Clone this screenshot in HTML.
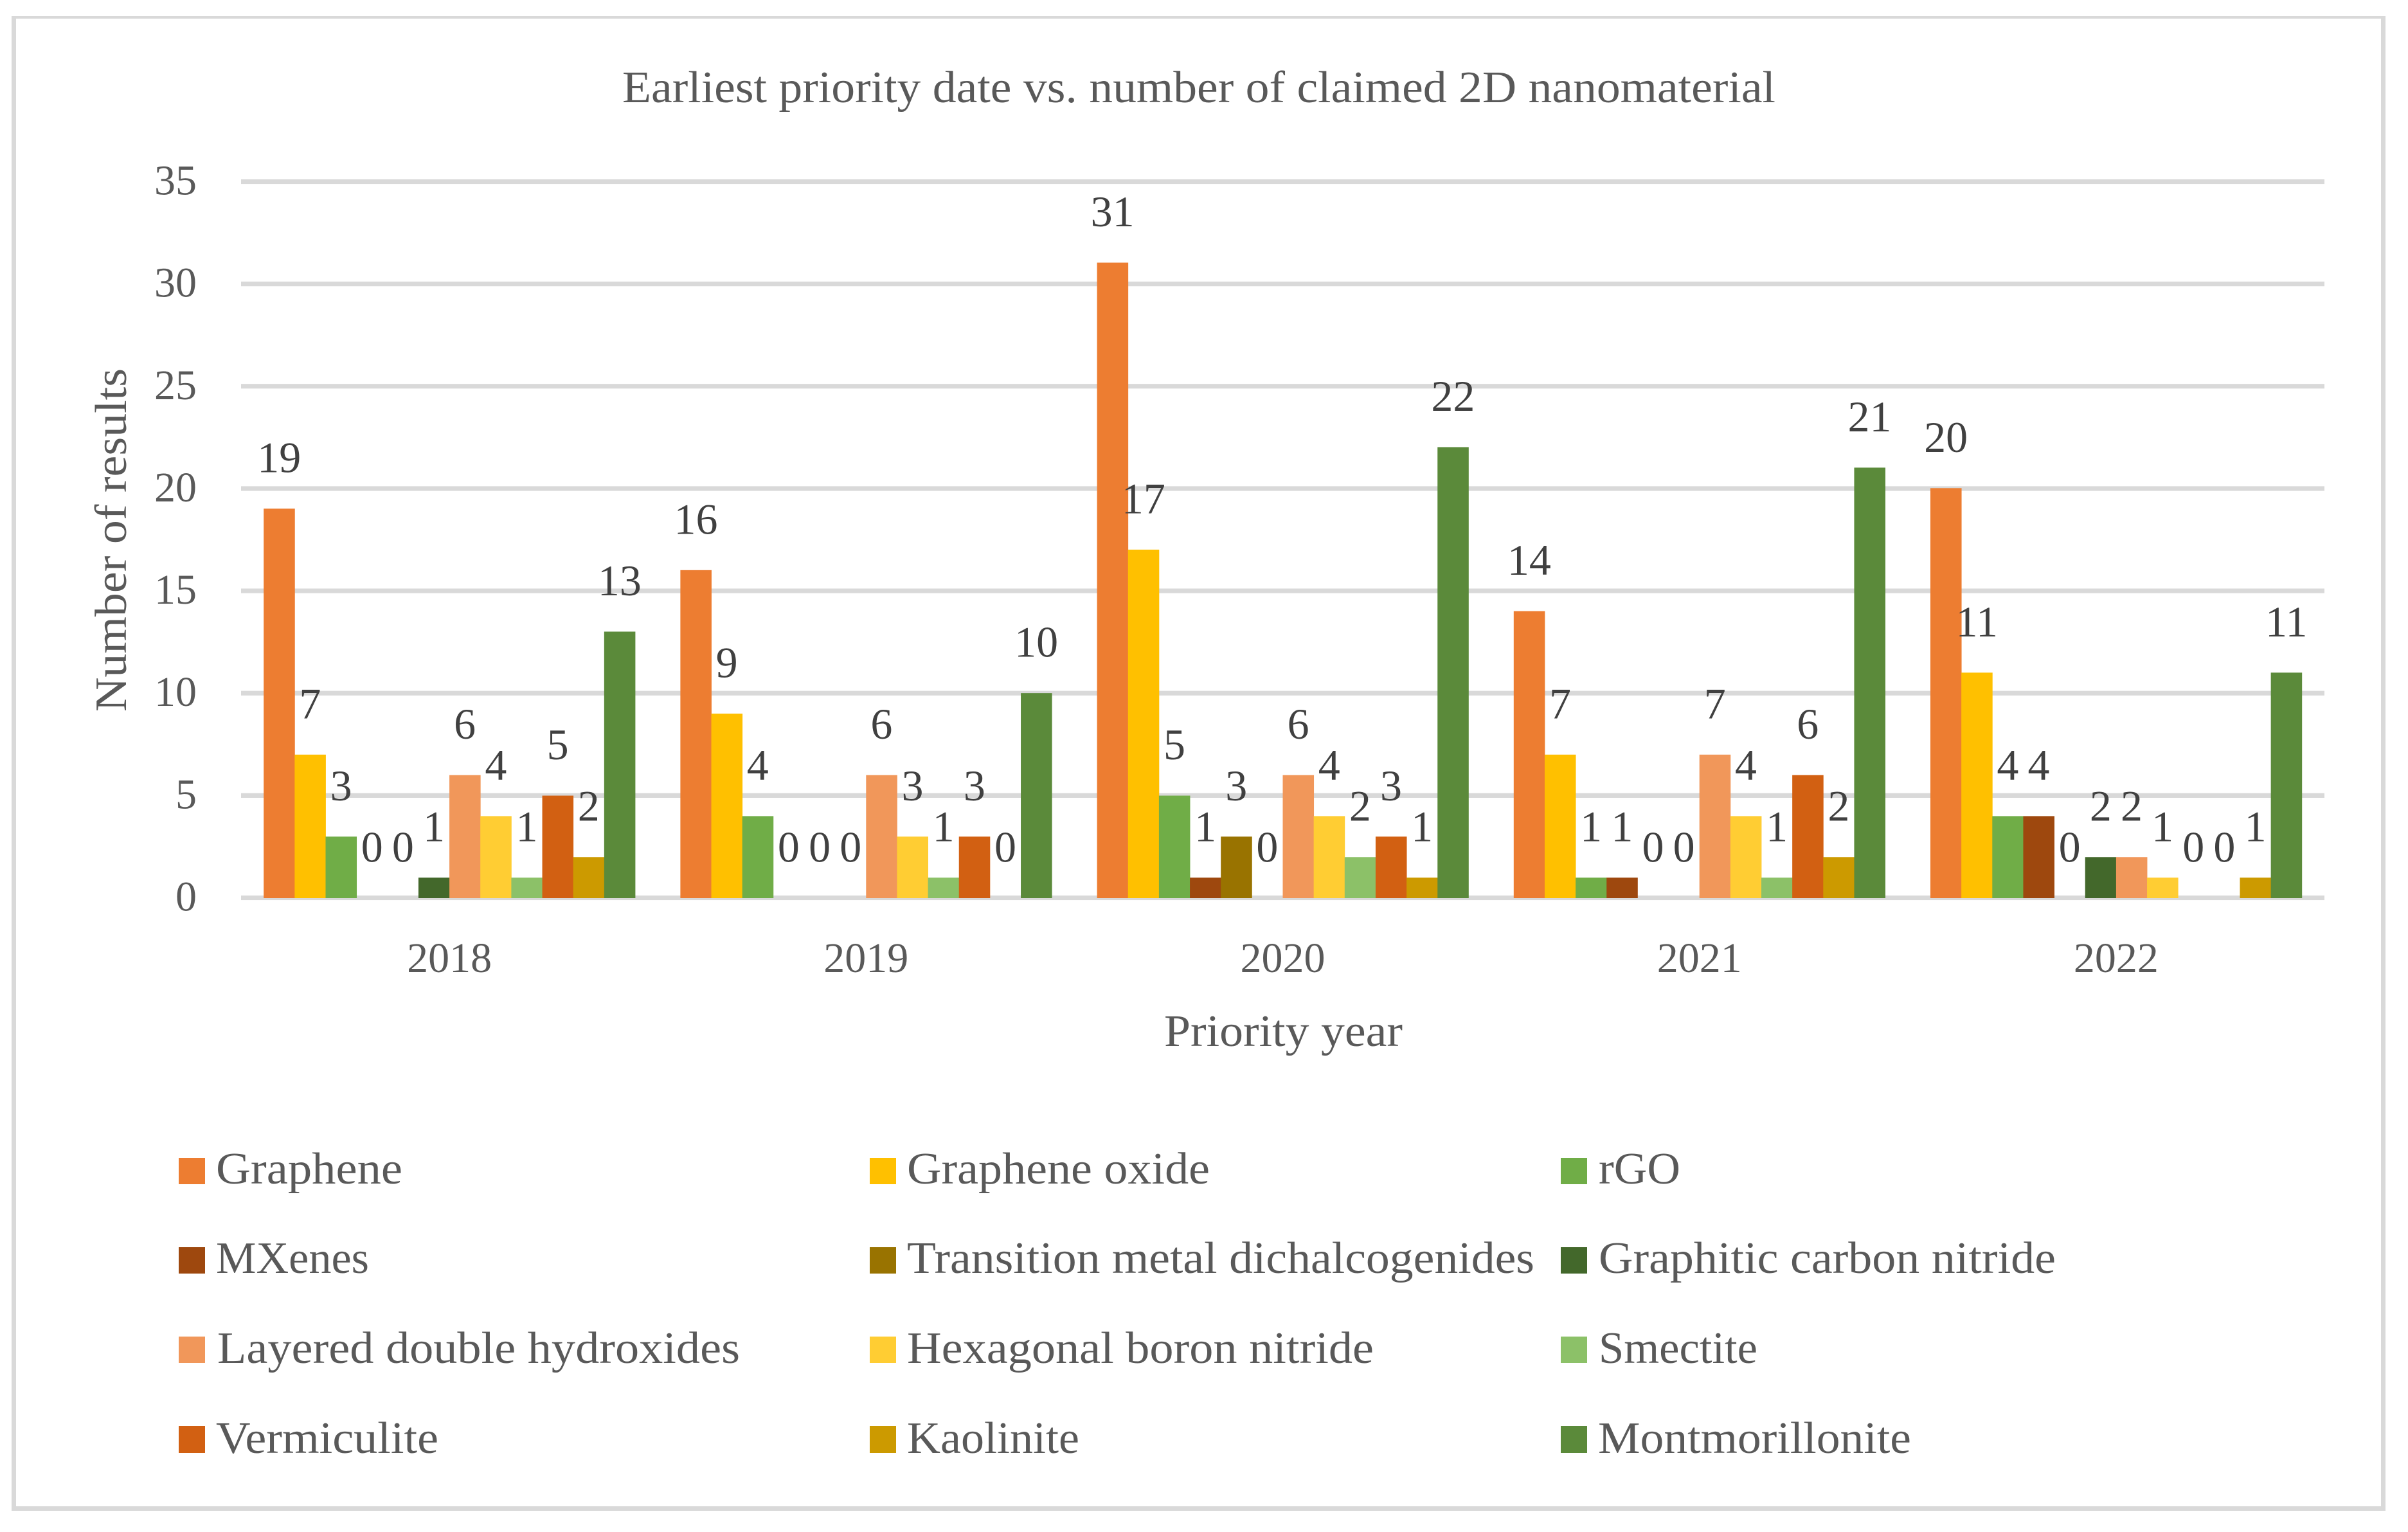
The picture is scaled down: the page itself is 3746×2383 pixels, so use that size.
<!DOCTYPE html>
<html lang="en">
<head>
<meta charset="utf-8">
<title>Earliest priority date vs. number of claimed 2D nanomaterial</title>
<style>
html,body{margin:0;padding:0;background:#fff;}
svg{display:block;}
text{font-family:"Liberation Serif",serif;}
.t{fill:#595959;font-size:70px;}
.d{fill:#404040;font-size:68px;text-anchor:middle;}
</style>
</head>
<body>
<svg id="chart" xmlns="http://www.w3.org/2000/svg" width="3746" height="2383" viewBox="0 0 3746 2383">
<rect x="0" y="0" width="3746" height="2383" fill="#ffffff"/>
<path d="M18 25H3711V2350H18ZM25 29V2343H3704V29Z" fill="#D9D9D9" fill-rule="evenodd"/>
<text class="t" x="968" y="159" textLength="1794" lengthAdjust="spacingAndGlyphs">Earliest priority date vs. number of claimed 2D nanomaterial</text>
<text class="t" x="1811" y="1627" textLength="371" lengthAdjust="spacingAndGlyphs">Priority year</text>
<text class="t" transform="translate(196 1107) rotate(-90)" x="0" y="0" textLength="534" lengthAdjust="spacingAndGlyphs">Number of results</text>
<g id="grid"></g>
<g id="yticks"></g>
<g id="xticks"></g>
<g id="bars"></g>
<g id="labels"></g>
<g>
<g><rect x="278" y="1801" width="41" height="41" fill="#ED7D31"/><text class="t" x="336" y="1841" textLength="290" lengthAdjust="spacingAndGlyphs">Graphene</text></g>
<g><rect x="1353" y="1801" width="41" height="41" fill="#FFC000"/><text class="t" x="1411" y="1841" textLength="471" lengthAdjust="spacingAndGlyphs">Graphene oxide</text></g>
<g><rect x="2428" y="1801" width="41" height="41" fill="#70AD47"/><text class="t" x="2487" y="1841" textLength="127" lengthAdjust="spacingAndGlyphs">rGO</text></g>
<g><rect x="278" y="1940" width="41" height="41" fill="#9E480E"/><text class="t" x="336" y="1980" textLength="238" lengthAdjust="spacingAndGlyphs">MXenes</text></g>
<g><rect x="1353" y="1940" width="41" height="41" fill="#997300"/><text class="t" x="1411" y="1980" textLength="976" lengthAdjust="spacingAndGlyphs">Transition metal dichalcogenides</text></g>
<g><rect x="2428" y="1940" width="41" height="41" fill="#43682B"/><text class="t" x="2487" y="1980" textLength="711" lengthAdjust="spacingAndGlyphs">Graphitic carbon nitride</text></g>
<g><rect x="278" y="2079" width="41" height="41" fill="#F1975A"/><text class="t" x="338" y="2120" textLength="813" lengthAdjust="spacingAndGlyphs">Layered double hydroxides</text></g>
<g><rect x="1353" y="2079" width="41" height="41" fill="#FFCD33"/><text class="t" x="1411" y="2120" textLength="726" lengthAdjust="spacingAndGlyphs">Hexagonal boron nitride</text></g>
<g><rect x="2428" y="2079" width="41" height="41" fill="#8CC168"/><text class="t" x="2487" y="2120" textLength="247" lengthAdjust="spacingAndGlyphs">Smectite</text></g>
<g><rect x="278" y="2218" width="41" height="42" fill="#D26012"/><text class="t" x="336" y="2260" textLength="346" lengthAdjust="spacingAndGlyphs">Vermiculite</text></g>
<g><rect x="1353" y="2218" width="41" height="42" fill="#CC9A00"/><text class="t" x="1411" y="2260" textLength="268" lengthAdjust="spacingAndGlyphs">Kaolinite</text></g>
<g><rect x="2428" y="2218" width="41" height="42" fill="#5B8A3A"/><text class="t" x="2486" y="2260" textLength="487" lengthAdjust="spacingAndGlyphs">Montmorillonite</text></g>
</g>
</svg>
<script>
const categories = ['2018', '2019', '2020', '2021', '2022'];
const yTicks = [0, 5, 10, 15, 20, 25, 30, 35];
const seriesNames = ['graphene', 'graphene-oxide', 'rgo', 'mxenes', 'tmd', 'graphitic-carbon-nitride', 'layered-double-hydroxides', 'hexagonal-boron-nitride', 'smectite', 'vermiculite', 'kaolinite', 'montmorillonite'];
const seriesColors = ['#ED7D31', '#FFC000', '#70AD47', '#9E480E', '#997300', '#43682B', '#F1975A', '#FFCD33', '#8CC168', '#D26012', '#CC9A00', '#5B8A3A'];
const graphene = [19, 16, 31, 14, 20];
const grapheneOxide = [7, 9, 17, 7, 11];
const rGO = [3, 4, 5, 1, 4];
const mxenes = [0, 0, 1, 1, 4];
const tmd = [0, 0, 3, 0, 0];
const graphiticCarbonNitride = [1, 0, 0, 0, 2];
const layeredDoubleHydroxides = [6, 6, 6, 7, 2];
const hexagonalBoronNitride = [4, 3, 4, 4, 1];
const smectite = [1, 1, 2, 1, 0];
const vermiculite = [5, 3, 3, 6, 0];
const kaolinite = [2, 0, 1, 2, 1];
const montmorillonite = [13, 10, 22, 21, 11];
const seriesValues = [graphene, grapheneOxide, rGO, mxenes, tmd, graphiticCarbonNitride, layeredDoubleHydroxides, hexagonalBoronNitride, smectite, vermiculite, kaolinite, montmorillonite];

const NS = 'http://www.w3.org/2000/svg';
const plotLeft = 375, plotRight = 3616, yMax = 35;
const gridZeroY = 1396.5, gridTopY = 282.5;
const barZeroY = 1397, barTopY = 281;
const groupW = (plotRight - plotLeft) / categories.length;
const barW = 48.15;
function gridY(v) { return gridZeroY - (v / yMax) * (gridZeroY - gridTopY); }
function barY(v) { return barZeroY - (v / yMax) * (barZeroY - barTopY); }
function groupCenter(i) { return plotLeft + groupW * (i + 0.5); }
function barX(i, s) { return groupCenter(i) - barW * seriesValues.length / 2 + barW * s; }
function make(tag, attrs, parent, txt) {
  const el = document.createElementNS(NS, tag);
  for (const k in attrs) el.setAttribute(k, attrs[k]);
  if (txt !== undefined) el.textContent = txt;
  parent.appendChild(el);
  return el;
}
const gridG = document.getElementById('grid');
const yG = document.getElementById('yticks');
const xG = document.getElementById('xticks');
const barsG = document.getElementById('bars');
const labelsG = document.getElementById('labels');

yTicks.forEach(function (v) {
  const line = make('rect', { x: plotLeft, y: gridY(v) - 3.6, width: plotRight - plotLeft, height: 7.2, fill: '#D9D9D9' }, gridG);
  
  
  const lab = make('text', { class: 't', x: 306, y: gridY(v) + 20, 'text-anchor': 'end', style: 'font-size:66px' }, yG, String(v));
  
  
});
categories.forEach(function (c, i) {
  const lab = make('text', { class: 't', x: groupCenter(i), y: 1512, 'text-anchor': 'middle', style: 'font-size:66px' }, xG, c);
  
  
  seriesValues.forEach(function (vals, s) {
    const v = vals[i];
    if (v > 0) {
      const bar = make('rect', { x: barX(i, s), y: barY(v), width: barW + 0.4, height: barZeroY - barY(v), fill: seriesColors[s] }, barsG);
      
      
    }
    const t = make('text', { class: 'd', x: barX(i, s) + barW / 2, y: barY(v) - 56.5 }, labelsG, String(v));
    
    
  });
});
</script>
</body>
</html>
